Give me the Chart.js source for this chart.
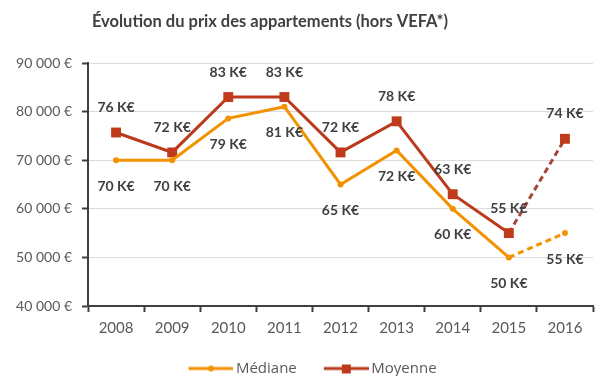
<!DOCTYPE html>
<html lang="fr">
<head>
<meta charset="utf-8">
<script src="https://cdn.jsdelivr.net/npm/chart.js@4/dist/chart.umd.min.js"></script>
<style>
  html, body { margin: 0; padding: 0; background: #fff; }
  #wrap { width: 600px; height: 376px; }
</style>
</head>
<body>
<div id="wrap"><canvas id="chart" width="600" height="376"></canvas></div>
<script>
const title = "Évolution du prix des appartements (hors VEFA*)";
const years = ["2008", "2009", "2010", "2011", "2012", "2013", "2014", "2015", "2016"];
const mediane = [70000, 70000, 78600, 81000, 65000, 72000, 60000, 50000, 55000];
const moyenne = [75700, 71600, 83000, 83000, 71600, 78000, 63000, 55000, 74400];
const yTicks = [40000, 50000, 60000, 70000, 80000, 90000];

const ORANGE = "#f39200";
const RUST = "#bb3a1c";
const FONT = "Lato";

// legend symbol: line with the marker on top; the line sits in the right
// part of a 60px canvas so items get more room between them
const legendSymbol = (color, drawMarker) => {
  const c = document.createElement("canvas");
  c.width = 60; c.height = 12;
  const g = c.getContext("2d");
  g.strokeStyle = color; g.lineWidth = 3;
  g.beginPath(); g.moveTo(15, 6); g.lineTo(60, 6); g.stroke();
  g.fillStyle = color;
  drawMarker(g);
  return c;
};
const medianeSym = legendSymbol(ORANGE, g => { g.beginPath(); g.arc(37.5, 6, 3, 0, Math.PI * 2); g.fill(); });
const moyenneSym = legendSymbol(RUST, g => { g.fillRect(33, 2, 9, 9); });

const dashLast = (ctx) => ctx.p1DataIndex === years.length - 1 ? [6, 4] : undefined;

// title drawn a bit left of center, legend nudged right
const titlePlugin = {
  id: "titleText",
  afterLayout(chart) {
    chart.legend.left += 9;
    chart.legend.right += 9;
  },
  afterDraw(chart) {
    const ctx = chart.ctx;
    ctx.save();
    ctx.font = `bold 16.5px ${FONT}`;
    ctx.fillStyle = "#404040";
    ctx.textAlign = "center";
    ctx.textBaseline = "middle";
    ctx.fillText(title, 270, 22);
    ctx.restore();
  }
};

// value labels "xx K€" above (moyenne) or below (médiane) each point
const valueLabels = {
  id: "valueLabels",
  afterDatasetsDraw(chart) {
    const ctx = chart.ctx;
    ctx.save();
    ctx.font = `bold 14px ${FONT}`;
    ctx.fillStyle = "#404040";
    ctx.textAlign = "center";
    ctx.textBaseline = "middle";
    chart.data.datasets.forEach((ds, i) => {
      const meta = chart.getDatasetMeta(i);
      const dy = ds.label === "Moyenne" ? -25 : 26;
      meta.data.forEach((pt, j) => {
        const txt = Math.round(ds.data[j] / 1000) + " K€";
        ctx.fillText(txt, pt.x, pt.y + dy);
      });
    });
    ctx.restore();
  }
};

new Chart(document.getElementById("chart"), {
  type: "line",
  data: {
    labels: years,
    datasets: [
      {
        label: "Médiane",
        data: mediane,
        borderColor: ORANGE,
        backgroundColor: ORANGE,
        borderWidth: 3,
        pointStyle: "circle",
        pointRadius: 3,
        pointHoverRadius: 3,
        pointBorderWidth: 0,
        segment: { borderDash: dashLast },
        tension: 0
      },
      {
        label: "Moyenne",
        data: moyenne,
        borderColor: RUST,
        backgroundColor: "#c03b1b",
        borderWidth: 3,
        pointStyle: "rect",
        pointRadius: 7,
        pointHoverRadius: 7,
        pointBorderWidth: 0,
        segment: {
          borderDash: dashLast,
          borderColor: ctx => ctx.p1DataIndex === years.length - 1 ? "#a6453a" : undefined
        },
        tension: 0
      }
    ]
  },
  options: {
    responsive: false,
    animation: false,
    layout: { padding: { left: 0, right: 3, top: 63, bottom: -10 } },
    plugins: {
      title: { display: false },
      legend: {
        position: "bottom",
        labels: {
          color: "#595959",
          font: { family: "Open Sans", size: 15 },
          usePointStyle: true,
          pointStyleWidth: 50,
          padding: 17,
          generateLabels: chart => chart.data.datasets.map((ds, i) => ({
            text: ds.label,
            pointStyle: i === 0 ? medianeSym : moyenneSym,
            fontColor: "#595959",
            lineWidth: 0,
            datasetIndex: i
          }))
        }
      },
      tooltip: { enabled: false }
    },
    scales: {
      x: {
        offset: true,
        grid: {
          display: true,
          drawOnChartArea: false,
          drawTicks: true,
          tickLength: 6,
          tickColor: "#404040",
          tickWidth: 2,
          offset: true
        },
        border: { color: "#404040", width: 2 },
        ticks: {
          color: "#595959",
          font: { family: FONT, size: 15 },
          padding: 7
        }
      },
      y: {
        min: yTicks[0],
        max: yTicks[yTicks.length - 1],
        afterBuildTicks: axis => { axis.ticks = yTicks.map(v => ({ value: v })); },
        afterFit: axis => { axis.width = 88; },
        grid: {
          color: "#dcdcdc",
          lineWidth: 1,
          drawTicks: true,
          tickLength: 6,
          tickColor: "#404040",
          tickWidth: 2
        },
        border: { color: "#404040", width: 2 },
        ticks: {
          color: "#595959",
          font: { family: FONT, size: 14 },
          padding: 10,
          callback: v => (v / 1000) + " 000 €"
        }
      }
    }
  },
  plugins: [valueLabels, titlePlugin]
});
</script>
</body>
</html>
